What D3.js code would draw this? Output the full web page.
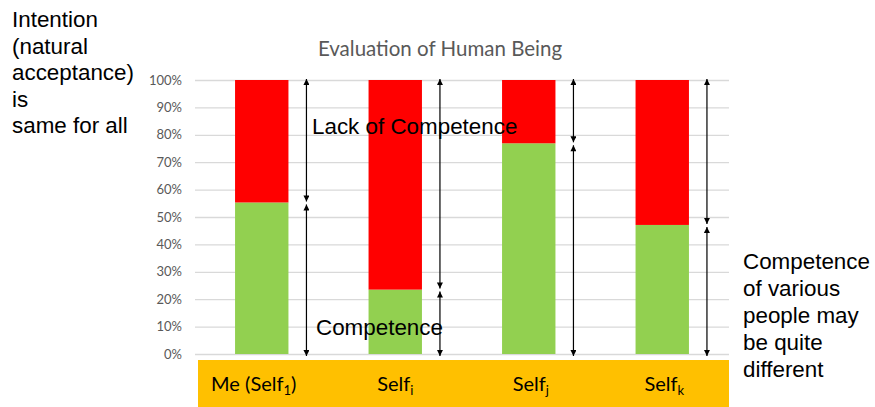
<!DOCTYPE html>
<html>
<head>
<meta charset="utf-8">
<script src="https://cdn.jsdelivr.net/npm/d3@7"></script>
<style>
  body { margin: 0; background: #fff; }
  svg { display: block; }
</style>
</head>
<body>
<div id="chart"></div>
<script>
// chart data
const people = ["Me (Self1)", "Selfi", "Selfj", "Selfk"];
const labelBase = ["Me (Self", "Self", "Self", "Self"];
const labelSub = ["1", "i", "j", "k"];
const labelTail = [")", "", "", ""];
const competence = [55.3, 23.5, 76.9, 47.1];
const lackOfCompetence = [44.7, 76.5, 23.1, 52.9];
const yTicks = [0, 10, 20, 30, 40, 50, 60, 70, 80, 90, 100];
const leftNote = ["Intention", "(natural", "acceptance)", "is", "same for all"];
const rightNote = ["Competence", "of various", "people may", "be quite", "different"];

const width = 875, height = 407;
const margin = {left: 195, right: 146, top: 80, bottom: 53};
const officeFont = "Lato, 'Open Sans', sans-serif";

const svg = d3.select("#chart").append("svg")
    .attr("width", width)
    .attr("height", height);

const x = d3.scaleBand()
    .domain(people)
    .range([margin.left, width - margin.right])
    .paddingInner(0.6)
    .paddingOuter(0.3);

const y = d3.scaleLinear()
    .domain([0, 100])
    .range([height - margin.bottom, margin.top]);

// gridlines + tick labels
const yAxis = svg.append("g")
    .attr("transform", `translate(${margin.left},0)`)
    .call(d3.axisLeft(y).tickValues(yTicks)
        .tickSize(-(width - margin.left - margin.right))
        .tickPadding(13)
        .tickFormat(d => d + "%"));
yAxis.select(".domain").remove();
yAxis.selectAll(".tick line").attr("stroke", "#d9d9d9").attr("stroke-width", 1.3);
yAxis.selectAll(".tick text")
    .attr("fill", "#595959")
    .style("font-family", officeFont)
    .style("font-size", "13px");

// title
svg.append("text")
    .attr("x", 440).attr("y", 56)
    .attr("text-anchor", "middle")
    .attr("fill", "#595959")
    .style("font-family", officeFont)
    .style("font-size", "20.5px")
    .text("Evaluation of Human Being");

// stacked bars
const stack = people.map((p, i) => ({name: p, green: competence[i], red: lackOfCompetence[i]}));

svg.selectAll(".bar-green").data(stack).enter().append("rect")
    .attr("class", "bar-green")
    .attr("x", d => x(d.name))
    .attr("width", x.bandwidth())
    .attr("y", d => y(d.green))
    .attr("height", d => y(0) - y(d.green))
    .attr("fill", "#92d050");

svg.selectAll(".bar-red").data(stack).enter().append("rect")
    .attr("class", "bar-red")
    .attr("x", d => x(d.name))
    .attr("width", x.bandwidth())
    .attr("y", d => y(d.green + d.red))
    .attr("height", d => y(d.green) - y(d.green + d.red))
    .attr("fill", "#ff0000");

// arrowheads
const defs = svg.append("defs");
defs.append("marker")
    .attr("id", "arrowEnd")
    .attr("markerUnits", "userSpaceOnUse")
    .attr("viewBox", "0 0 10 10")
    .attr("refX", 10).attr("refY", 5)
    .attr("markerWidth", 7).attr("markerHeight", 6)
    .attr("orient", "auto")
    .append("path").attr("d", "M0,0 L10,5 L0,10 Z").attr("fill", "#000");
defs.append("marker")
    .attr("id", "arrowStart")
    .attr("markerUnits", "userSpaceOnUse")
    .attr("viewBox", "0 0 10 10")
    .attr("refX", 0).attr("refY", 5)
    .attr("markerWidth", 7).attr("markerHeight", 6)
    .attr("orient", "auto")
    .append("path").attr("d", "M10,0 L0,5 L10,10 Z").attr("fill", "#000");

const ax = d => x(d.name) + x.bandwidth() + 18;

// top arrow: lack of competence
svg.selectAll(".arrow-top").data(stack).enter().append("line")
    .attr("x1", ax).attr("x2", ax)
    .attr("y1", d => y(100) - 1)
    .attr("y2", d => y(d.green) - 1)
    .attr("stroke", "#000").attr("stroke-width", 1.2)
    .attr("marker-start", "url(#arrowStart)")
    .attr("marker-end", "url(#arrowEnd)");

// bottom arrow: competence
svg.selectAll(".arrow-bottom").data(stack).enter().append("line")
    .attr("x1", ax).attr("x2", ax)
    .attr("y1", d => y(d.green) + 2)
    .attr("y2", d => y(0) + 2)
    .attr("stroke", "#000").attr("stroke-width", 1.2)
    .attr("marker-start", "url(#arrowStart)")
    .attr("marker-end", "url(#arrowEnd)");

// category band
svg.append("rect")
    .attr("x", 198).attr("y", 360)
    .attr("width", 531).attr("height", 47)
    .attr("fill", "#ffc000");

const labelShift = [-8, 0, 2, 2];  // labels in the band aren't exactly centred on the bars
const cat = svg.selectAll(".cat").data(people).enter().append("text")
    .attr("class", "cat")
    .attr("x", (d, i) => x(d) + x.bandwidth() / 2 + labelShift[i])
    .attr("y", 391)
    .attr("text-anchor", "middle")
    .attr("fill", "#000")
    .style("font-family", officeFont)
    .style("font-size", "20px");
cat.append("tspan").text((d, i) => labelBase[i]);
cat.append("tspan").attr("dy", 4).style("font-size", "13px").text((d, i) => labelSub[i]);
cat.append("tspan").attr("dy", -4).text((d, i) => labelTail[i]);

// annotations
const note = {fontFamily: "'Liberation Sans', Arial, sans-serif", size: "22.4px"};

svg.append("text")
    .attr("x", 312).attr("y", 134)
    .style("font-family", note.fontFamily).style("font-size", note.size)
    .attr("fill", "#000")
    .text("Lack of Competence");

svg.append("text")
    .attr("x", 316).attr("y", 335)
    .style("font-family", note.fontFamily).style("font-size", note.size)
    .attr("fill", "#000")
    .text("Competence");

svg.append("g").selectAll("text").data(leftNote).enter().append("text")
    .attr("x", 12).attr("y", (d, i) => 27 + i * 26.6)
    .style("font-family", note.fontFamily).style("font-size", note.size)
    .attr("fill", "#000")
    .text(d => d);

svg.append("g").selectAll("text").data(rightNote).enter().append("text")
    .attr("x", 743).attr("y", (d, i) => 269 + i * 27)
    .style("font-family", note.fontFamily).style("font-size", note.size)
    .attr("fill", "#000")
    .text(d => d);
</script>
</body>
</html>
